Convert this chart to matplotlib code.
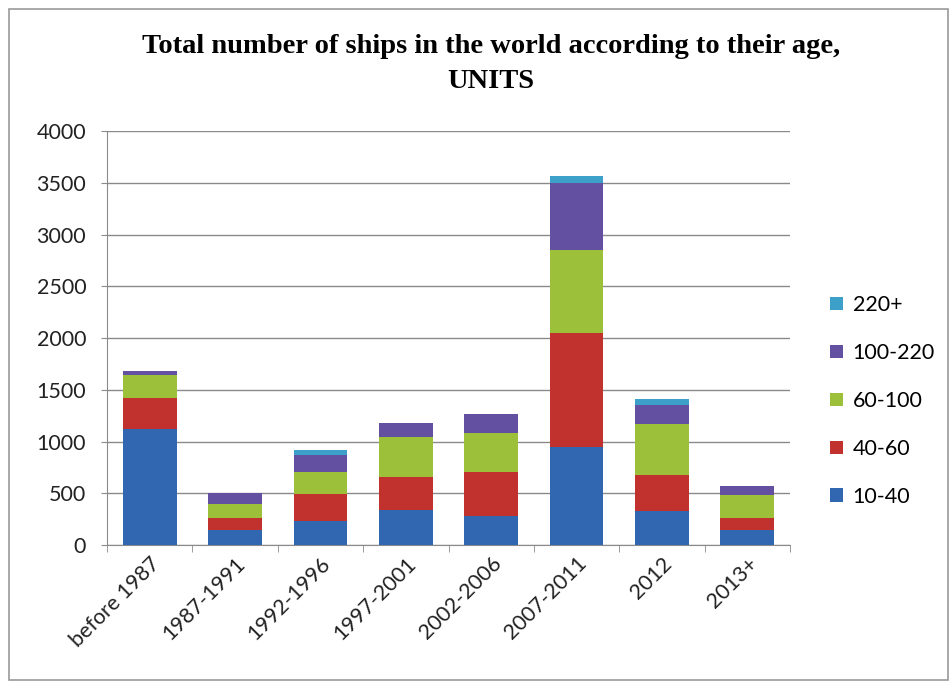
import numpy as np
import matplotlib
matplotlib.use("Agg")
import matplotlib.pyplot as plt
from matplotlib.patches import Rectangle

# ============================================================
# Data
# ============================================================

periods = ["before 1987", "1987-1991", "1992-1996", "1997-2001",
           "2002-2006", "2007-2011", "2012", "2013+"]

ships_10_40 = [1120, 145, 232, 338, 280, 945, 332, 145]
ships_40_60 = [305, 120, 258, 322, 422, 1104, 345, 113]
ships_60_100 = [220, 132, 217, 380, 377, 799, 494, 226]
ships_100_220 = [35, 104, 163, 136, 183, 652, 184, 87]
ships_220_plus = [5, 0, 45, 0, 0, 65, 55, 0]

series_names = ["10-40", "40-60", "60-100", "100-220", "220+"]
colors = ["#3166B0", "#C1312D", "#9DC03A", "#6450A0", "#3CA0C8"]

# ============================================================
# Plot
# ============================================================

fig = plt.figure(figsize=(9.49, 6.88), dpi=100)
ax = fig.add_axes([0.1128, 0.2078, 0.7197, 0.6018])

tick_font = "Lato"
x = np.arange(len(periods))
bottom = np.zeros(len(periods))
handles = []
for name, vals, col in zip(series_names,
                           [ships_10_40, ships_40_60, ships_60_100,
                            ships_100_220, ships_220_plus],
                           colors):
    b = ax.bar(x, vals, width=0.63, bottom=bottom, color=col,
               label=name, zorder=3)
    handles.append(b)
    bottom += np.array(vals)

ax.set_xlim(-0.5, len(periods) - 0.5)
ax.set_ylim(0, 4000)
ax.set_yticks(np.arange(0, 4001, 500))
ax.yaxis.grid(True, color="#8a8a8a", linewidth=1.0, zorder=0)

for side in ["top", "right"]:
    ax.spines[side].set_visible(False)
ax.spines["left"].set_color("#8a8a8a")
ax.spines["bottom"].set_color("#8a8a8a")

ax.tick_params(axis="y", length=4, color="#8a8a8a", labelsize=15.5,
               labelcolor="#222222", pad=11)
ax.tick_params(axis="x", length=0, labelsize=15.5, labelcolor="#222222",
               pad=6)
ax.set_xticks(x)
ax.set_xticklabels(periods, rotation=45, ha="right",
                   rotation_mode="anchor")
for lbl in ax.get_xticklabels() + ax.get_yticklabels():
    lbl.set_fontfamily(tick_font)

# tick marks between categories on the bottom axis
ax.set_xticks(np.arange(-0.5, len(periods), 1), minor=True)
ax.tick_params(axis="x", which="minor", length=5, color="#8a8a8a")

fig.suptitle("Total number of ships in the world according to their age,\nUNITS",
             x=0.517, y=0.95, fontsize=20.5, fontweight="bold",
             family="Liberation Serif", linespacing=1.5)

leg = ax.legend(handles[::-1], series_names[::-1], loc="center left",
                bbox_to_anchor=(1.03, 0.348), frameon=False,
                prop={"family": tick_font, "size": 15.5},
                handlelength=0.6, handleheight=0.6, labelspacing=1.3,
                handletextpad=0.45)

# outer chart-area frame
fig.patches.append(Rectangle((0.009, 0.012), 0.99, 0.975,
                             transform=fig.transFigure, fill=False,
                             edgecolor="#9a9a9a", linewidth=1.2))

fig.savefig("out.png", dpi=100)
